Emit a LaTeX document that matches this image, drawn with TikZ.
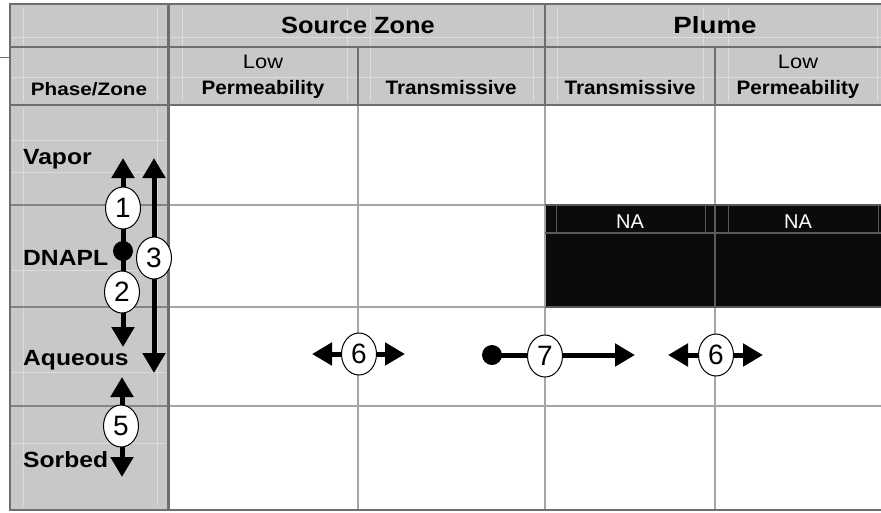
\documentclass[tikz,border=0pt]{standalone}
\usepackage{fontspec}
\usepackage{graphicx}
\setmainfont{Liberation Sans}
\newfontfamily\numfont{Liberation Sans}
\usetikzlibrary{arrows.meta,shapes.geometric}
\definecolor{hdrgray}{HTML}{C8C8C8}
\definecolor{darkline}{HTML}{6E6E6E}
\definecolor{bodyline}{HTML}{A6A6A6}
\definecolor{faint}{HTML}{DCDCDC}
\definecolor{nablack}{HTML}{0B0B0B}
\definecolor{naline}{HTML}{5A5A5A}
\newcommand{\widerow}[1]{\scalebox{1.12}[1]{#1}}
\newcommand{\widehdr}[1]{\scalebox{1.06}[1]{#1}}
\newcommand{\widezone}[1]{\scalebox{1.08}[1]{#1}}
\begin{document}
\begin{tikzpicture}[x=1pt,y=-1pt,
  darkrule/.style={draw=darkline,line width=2.5pt},
  bodyrule/.style={draw=bodyline,line width=2pt},
  fainrule/.style={draw=faint,line width=1pt},
  narule/.style={draw=naline,line width=1.2pt},
  zonetext/.style={font=\fontsize{23.5}{25}\selectfont\bfseries,anchor=base,inner sep=0pt},
  coltext/.style={font=\fontsize{19.5}{21}\selectfont\bfseries,anchor=base,inner sep=0pt},
  lowtext/.style={font=\fontsize{19.5}{21}\selectfont,anchor=base,inner sep=0pt},
  rowtext/.style={font=\fontsize{22}{24}\selectfont\bfseries,anchor=base west,inner sep=0pt},
  natext/.style={font=\fontsize{20}{22}\selectfont,text=white,anchor=base,inner sep=0pt},
  num/.style={ellipse,draw,line width=1pt,fill=white,minimum width=35pt,minimum height=42pt,inner sep=0pt,font=\numfont\fontsize{28}{28}\selectfont},
  dotnode/.style={circle,fill=black,minimum size=20pt,inner sep=0pt},
  flow/.style={line width=5pt,-{Triangle[length=20pt,width=22pt]}},
  flowboth/.style={line width=5pt,{Triangle[length=20pt,width=22pt]}-{Triangle[length=20pt,width=22pt]}}
]
\useasboundingbox (0,0) rectangle (881,512);
% backgrounds
\fill[hdrgray] (10,4) rectangle (881,105);
\fill[hdrgray] (10,105) rectangle (168,510);
\fill[nablack] (545,205) rectangle (881,307);
% faint text-box lines
\foreach \x in {23,157,182,347,370,533,557,703,728,877} \draw[fainrule] (\x,8) -- (\x,101);
\foreach \y in {37,77} \draw[fainrule] (12,\y) -- (881,\y);
\foreach \x in {23,157} \draw[fainrule] (\x,108) -- (\x,506);
\foreach \y in {140,172,270,372,443} \draw[fainrule] (12,\y) -- (166,\y);
% body grid
\foreach \y in {205,307,406} \draw[bodyrule] (168,\y) -- (881,\y);
\foreach \x in {358,545,715} \draw[bodyrule] (\x,105) -- (\x,510);
% NA cells
\draw[narule] (545,233) -- (881,233);
\draw[narule] (715,205) -- (715,307);
\foreach \x in {556,705,728,878} \draw[narule,line width=0.8pt] (\x,206) -- (\x,232);
\draw[narule] (545,205) -- (881,205);
\draw[narule] (545,307) -- (881,307);
\node[natext] (na1) at (630,228) {NA};
\node[natext] (na2) at (798,228) {NA};
% header and first column rules
\foreach \y in {4,47,105,510} \draw[darkrule] (10,\y) -- (881,\y);
\foreach \y in {205,307,406} \draw[darkrule,line width=2pt,draw=darkline!85] (10,\y) -- (168,\y);
\draw[darkrule] (10,3) -- (10,511);
\draw[darkrule,line width=3pt] (168,4) -- (168,510);
\draw[darkrule] (545,4) -- (545,105);
\draw[darkrule] (358,47) -- (358,105);
\draw[darkrule] (715,47) -- (715,105);
\draw[darkline,line width=1pt] (0,57) -- (11,57);
% header texts
\node[zonetext] (src) at (358,33) {\widezone{Source Zone}};
\node[zonetext] (plm) at (715,33) {\scalebox{1.18}[1]{Plume}};
\node[coltext,font=\fontsize{18}{20}\selectfont\bfseries] (pz) at (89,95) {\scalebox{1.15}[1]{Phase/Zone}};
\node[lowtext] (low1) at (263,68) {\scalebox{1.12}[1]{Low}};
\node[coltext] (perm1) at (263,94) {\widehdr{Permeability}};
\node[coltext] (tr1) at (451,94) {\widehdr{Transmissive}};
\node[coltext] (tr2) at (630,94) {\widehdr{Transmissive}};
\node[lowtext] (low2) at (798,68) {\scalebox{1.12}[1]{Low}};
\node[coltext] (perm2) at (798,94) {\widehdr{Permeability}};
% row texts
\node[rowtext] (vap) at (23,164) {\widerow{Vapor}};
\node[rowtext] (dna) at (23,265) {\widerow{DNAPL}};
\node[rowtext] (aqu) at (23,365) {\widerow{Aqueous}};
\node[rowtext] (sor) at (23,467) {\widerow{Sorbed}};
% arrow end points
\coordinate (t1) at (123,158);
\coordinate (t2) at (123,347);
\coordinate (t3a) at (154,158);
\coordinate (t3b) at (154,373);
\coordinate (t5a) at (122,377);
\coordinate (t5b) at (122,477);
\coordinate (t6a) at (312,354);
\coordinate (t6b) at (405,354);
\coordinate (t7) at (635,355);
\coordinate (t8a) at (668,355);
\coordinate (t8b) at (763,355);
\coordinate (d1c) at (123,251);
\coordinate (d7c) at (492,355);
% arrows
\draw[flow] (d1c) -- (t1);
\draw[flow] (d1c) -- (t2);
\draw[flowboth] (t3a) -- (t3b);
\draw[flowboth] (t5a) -- (t5b);
\draw[flowboth] (t6a) -- (t6b);
\draw[flow] (d7c) -- (t7);
\draw[flowboth] (t8a) -- (t8b);
\node[dotnode] (d1) at (d1c) {};
\node[dotnode] (d7) at (d7c) {};
% numbered labels
\node[num] (n1) at (123,208) {1};
\node[num] (n2) at (122,292) {2};
\node[num] (n3) at (154,258) {3};
\node[num] (n5) at (121,426) {5};
\node[num] (n6a) at (359,354) {6};
\node[num] (n7) at (545,356) {7};
\node[num] (n6b) at (716,355) {6};
\end{tikzpicture}
\end{document}
